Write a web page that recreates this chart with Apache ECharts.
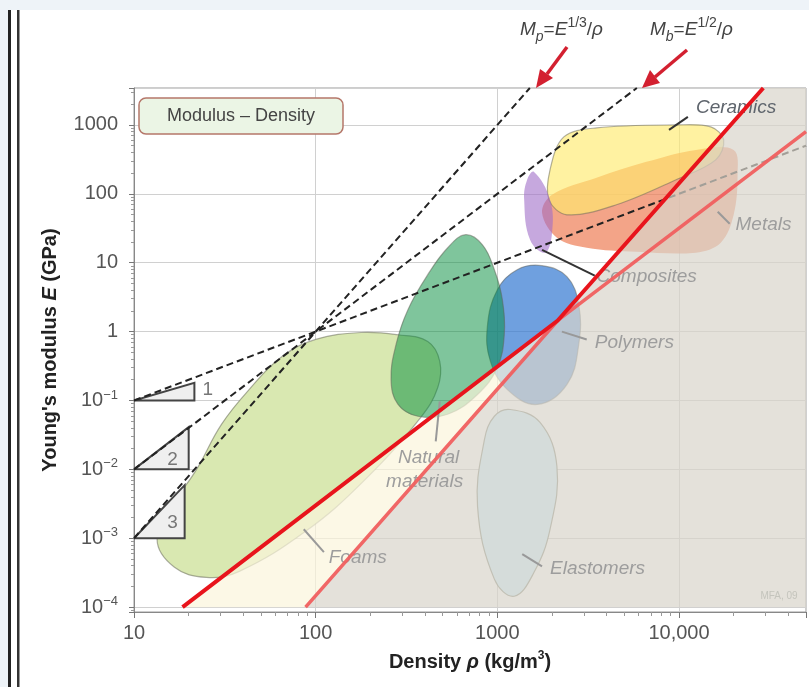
<!DOCTYPE html>
<html><head><meta charset="utf-8">
<script src="https://cdn.jsdelivr.net/npm/echarts@6/dist/echarts.min.js"></script>
<style>html,body{margin:0;padding:0;background:#eef3f8;}#c{width:809px;height:687px;}</style>
</head><body><div id="c"></div>
<script>
// ---------- axes ----------
const xMin = 10, xMax = 50000;
const yMin = 8.5e-5, yMax = 3436;
const xTickValues = [10, 100, 1000, 10000];
const xTickLabels = ['10', '100', '1000', '10,000'];
const yTickValues = [1e-4, 1e-3, 1e-2, 1e-1, 1, 10, 100, 1000];
const yTickLabels = ['10^−4', '10^−3', '10^−2', '10^−1', '1', '10', '100', '1000'];

// ---------- material property envelopes (density kg/m3, modulus GPa) ----------
const foams = [[13.4,9.7e-4],[16.7,3.3e-3],[22.1,0.01],[30.3,0.045],[43,0.144],[65,0.43],[100,0.77],[178,0.97],[284,0.9],[414,0.72],[482,0.37],[470,0.154],[379,0.057],[183,6.7e-3],[88,1.26e-3],[38,3.3e-4],[25,2.7e-4],[16.7,3.8e-4]];
const polymers = [[881,1.18],[1000,4.06],[1285,7.9],[1762,9.05],[2415,6.27],[2806,2.46],[2806,0.65],[2415,0.17],[1656,0.0875],[1135,0.144],[916,0.37]];
const naturalMaterials = [[668,25.5],[828,18.2],[963,7.9],[1066,2.9],[1092,0.9],[1000,0.3],[778,0.122],[533,0.063],[365,0.059],[284,0.0875],[260,0.2],[277,0.65],[322,2.08],[414,6.7],[533,16.5]];
const elastomers = [[1178,0.074],[1718,0.048],[2128,0.011],[1950,1.35e-3],[1592,3.2e-4],[1239,1.44e-4],[963,2.55e-4],[778,2.9e-3],[849,0.027],[963,0.059]];
const metals = [[1762,53],[2000,97],[3516,171],[6607,291],[12390,434],[19990,434],[21000,188],[19990,49.6],[16980,19.5],[12390,14],[5821,14.4],[3105,16.5],[2128,23]];
const ceramics = [[1923,82],[1950,223],[2323,670],[3516,905],[9638,1000],[14960,935],[17620,606],[15920,311],[9638,160],[4525,69.3],[2415,49.6]];
const composites = [[1592,208],[1950,82],[2000,27],[1829,14],[1514,21.5],[1405,82],[1459,160]];

// ---------- guide lines ----------
const guideSlope1 = [[10,0.1],[50000,500]];
const guideSlope2 = [[10,0.01],[5860,3436]];
const guideSlope3 = [[10,0.001],[1510,3436]];
const limitBright = [[18.5,1e-4],[2150,1.45],[29100,3436]];
const limitLight = [[88,1e-4],[2150,1.45],[50000,800]];
const excludedRegion = [[88,1e-4],[29100,3436],[50000,3436],[50000,1e-4]];
const betweenRegion = [[18.5,1e-4],[2150,1.45],[88,1e-4]];

// ---------- slope triangles ----------
const triangle1 = [[10,0.1],[21.5,0.1],[21.5,0.18]];
const triangle2 = [[10,0.01],[20,0.01],[20,0.041]];
const triangle3 = [[10,0.001],[19,0.001],[19,0.0059]];
const triangleLabels = [['1',23.8,0.144],['2',16.3,0.014],['3',16.3,0.0017]];

// ---------- annotations ----------
const familyLabels = [
  ['Ceramics',12390,1763],['Metals',20460,35.6],['Composites',3516,6.27],['Polymers',3436,0.69],
  ['Natural',284,0.0149],['materials',244,0.0067],['Foams',118,5.3e-4],['Elastomers',1950,3.6e-4],['MFA, 09',28050,1.44e-4]
];
const leaderLines = [
  [8810,847,11190,1306],[16330,54.8,19010,36.7],[1762,15.4,3436,6.48],[2266,1.0,3105,0.766],
  [482,0.0968,458,0.0255],[86,1.35e-3,111,6.3e-4],[1371,5.9e-4,1762,3.9e-4]
];

const FONT = '"Liberation Sans", Arial, Helvetica, sans-serif';
const darkLabels = {'Ceramics': '#5f656d'};
const darkLeaders = [0, 2];

function tickIndex(vals, v) {
  return vals.findIndex(t => Math.abs(Math.log10(t) - Math.log10(v)) < 1e-6);
}

function polySeries(pts, fill, stroke, z, smooth, lw) {
  return {
    type: 'custom', coordinateSystem: 'cartesian2d', clip: true, z: z, silent: true,
    data: [[pts[0][0], pts[0][1]]],
    renderItem: (params, api) => ({
      type: 'polygon',
      shape: { points: pts.map(p => api.coord(p)), smooth: smooth },
      style: { fill: fill, stroke: stroke || 'none', lineWidth: lw || 1.2 }
    })
  };
}
function lineSeries(pts, color, width, type, z) {
  return {
    type: 'line', data: pts, showSymbol: false, symbol: 'none', z: z, silent: true,
    lineStyle: { color: color, width: width, type: type },
    clip: true
  };
}

const blobStroke = 'rgba(100,100,90,0.5)';

const series = [
  polySeries(foams, '#d9e8b1', blobStroke, 2, 0.4),
  polySeries(polymers, 'rgba(50,120,210,0.7)', blobStroke, 2, 0.4),
  polySeries(naturalMaterials, 'rgba(0,139,57,0.5)', blobStroke, 2, 0.4),
  polySeries(elastomers, 'rgb(203,239,255)', 'rgba(120,120,100,0.8)', 2, 0.4),
  polySeries(metals, 'rgba(238,125,85,0.7)', 'none', 2, 0.35),
  polySeries(ceramics, 'rgba(255,235,110,0.65)', blobStroke, 2, 0.35),
  polySeries(composites, 'rgba(160,110,200,0.6)', 'none', 2, 0.4),
  lineSeries(guideSlope1, '#222', 2, [7,4], 3),
  lineSeries(guideSlope2, '#222', 2, [7,4], 3),
  lineSeries(guideSlope3, '#222', 2, [7,4], 3),
  polySeries(triangle1, '#efefef', '#444', 3, 0, 2),
  polySeries(triangle2, '#efefef', '#444', 3, 0, 2),
  polySeries(triangle3, '#efefef', '#444', 3, 0, 2),
  {
    type: 'custom', coordinateSystem: 'cartesian2d', z: 3, silent: true,
    data: triangleLabels.map(d => [d[1], d[2]]),
    renderItem: (params, api) => {
      const p = api.coord([api.value(0), api.value(1)]);
      const t = triangleLabels[params.dataIndex][0];
      return { type: 'text', x: p[0], y: p[1], style: { text: t, font: '19px ' + FONT, fill: '#777', align: t === '1' ? 'left' : 'center', verticalAlign: 'middle' } };
    }
  },
  polySeries(betweenRegion, 'rgba(251,245,219,0.7)', 'none', 4, 0),
  polySeries(excludedRegion, 'rgba(216,212,202,0.7)', 'none', 4, 0),
  {
    type: 'custom', coordinateSystem: 'cartesian2d', z: 5, silent: true,
    data: leaderLines,
    renderItem: (params, api) => {
      const a = api.coord([api.value(0), api.value(1)]);
      const b = api.coord([api.value(2), api.value(3)]);
      const dark = darkLeaders.indexOf(params.dataIndex) >= 0;
      return { type: 'line', shape: { x1: a[0], y1: a[1], x2: b[0], y2: b[1] }, style: { stroke: dark ? '#333' : '#999', lineWidth: 2 } };
    }
  },
  {
    type: 'custom', coordinateSystem: 'cartesian2d', z: 5, silent: true,
    data: familyLabels.map(d => [d[1], d[2]]),
    renderItem: (params, api) => {
      const p = api.coord([api.value(0), api.value(1)]);
      const t = familyLabels[params.dataIndex][0];
      const small = t === 'MFA, 09';
      return { type: 'text', x: p[0], y: p[1], style: { text: t, font: (small ? '10px ' : 'italic 19px ') + FONT, fill: small ? '#c4c4bc' : (darkLabels[t] || '#9d9d9d'), align: 'left', verticalAlign: 'middle' } };
    }
  },
  lineSeries(limitLight, 'rgba(240,95,95,0.95)', 3.5, 'solid', 6),
  lineSeries(limitBright, '#e8141c', 4, 'solid', 6)
];

const option = {
  backgroundColor: '#eef3f8',
  animation: false,
  grid: { left: 134, top: 88, width: 677, height: 524, show: true, borderColor: '#9a9a9a', borderWidth: 1, backgroundColor: 'transparent', containLabel: false },
  xAxis: {
    type: 'log', logBase: 10, min: xMin, max: xMax,
    name: 'Density {i|ρ} (kg/m{sup|3})', nameLocation: 'middle', nameGap: 38,
    nameTextStyle: { fontSize: 20, fontWeight: 'bold', color: '#222', fontFamily: FONT, lineHeight: 24,
      rich: { i: { fontStyle: 'italic', fontWeight: 'bold', fontSize: 20, fontFamily: FONT, lineHeight: 24 },
              sup: { fontSize: 12, fontWeight: 'bold', fontFamily: FONT, verticalAlign: 'top', lineHeight: 14 } } },
    axisLine: { show: true, lineStyle: { color: '#888' } },
    axisTick: { show: true, length: 6, lineStyle: { color: '#777' } },
    minorTick: { show: true, splitNumber: 9, length: 4, lineStyle: { color: '#999' } },
    splitLine: { show: true, lineStyle: { color: '#d0d0d0', width: 1 } },
    axisLabel: { margin: 11, fontSize: 20, color: '#555', fontFamily: FONT,
      formatter: v => { const i = tickIndex(xTickValues, v); return i < 0 ? '' : xTickLabels[i]; } }
  },
  yAxis: {
    type: 'log', logBase: 10, min: yMin, max: yMax,
    name: "Young's modulus {i|E} (GPa)", nameLocation: 'middle', nameGap: 74, nameRotate: 90,
    nameTextStyle: { fontSize: 20, fontWeight: 'bold', color: '#222', fontFamily: FONT,
      rich: { i: { fontStyle: 'italic', fontWeight: 'bold', fontSize: 20, fontFamily: FONT } } },
    axisLine: { show: true, lineStyle: { color: '#888' } },
    axisTick: { show: true, length: 5, lineStyle: { color: '#777' } },
    minorTick: { show: true, splitNumber: 9, length: 3, lineStyle: { color: '#999' } },
    splitLine: { show: true, lineStyle: { color: '#d0d0d0', width: 1 } },
    axisLabel: { margin: 16, fontSize: 20, color: '#555', fontFamily: FONT, lineHeight: 24,
      rich: { sup: { fontSize: 13, color: '#555', fontFamily: FONT, verticalAlign: 'top', lineHeight: 14 } },
      formatter: v => {
        const i = tickIndex(yTickValues, v);
        if (i < 0) return '';
        const parts = yTickLabels[i].split('^');
        return parts.length > 1 ? parts[0] + '{sup|' + parts[1] + '}' : parts[0];
      } }
  },
  graphic: [
    { type: 'rect', z: -10, shape: { x: 10, y: 10, width: 800, height: 678 }, style: { fill: '#ffffff' } },
    { type: 'rect', z: -9, shape: { x: 8, y: 10, width: 3, height: 678 }, style: { fill: '#222' } },
    { type: 'rect', z: -9, shape: { x: 17, y: 10, width: 2.5, height: 678 }, style: { fill: '#333' } },
    { type: 'rect', z: 100, shape: { x: 139, y: 98, width: 204, height: 36, r: 7 }, style: { fill: '#ebf5e5', stroke: '#b5776a', lineWidth: 1.5 } },
    { type: 'text', z: 101, x: 241, y: 116, style: { text: 'Modulus – Density', font: '18px ' + FONT, fill: '#444', align: 'center', verticalAlign: 'middle' } },
    { type: 'text', z: 101, x: 520, y: 30, style: {
        text: '{i|M}{sb|p}{n|=}{i|E}{sp|1/3}{n|/}{i|ρ}', verticalAlign: 'middle', align: 'left',
        rich: { i: { fontStyle: 'italic', fontSize: 19, fontFamily: FONT, fill: '#444', lineHeight: 28 },
                n: { fontSize: 19, fontFamily: FONT, fill: '#444', lineHeight: 28 },
                sb: { fontStyle: 'italic', fontSize: 14, fontFamily: FONT, fill: '#444', verticalAlign: 'bottom', lineHeight: 16 },
                sp: { fontSize: 14, fontFamily: FONT, fill: '#444', verticalAlign: 'top', lineHeight: 16 } } } },
    { type: 'text', z: 101, x: 650, y: 30, style: {
        text: '{i|M}{sb|b}{n|=}{i|E}{sp|1/2}{n|/}{i|ρ}', verticalAlign: 'middle', align: 'left',
        rich: { i: { fontStyle: 'italic', fontSize: 19, fontFamily: FONT, fill: '#444', lineHeight: 28 },
                n: { fontSize: 19, fontFamily: FONT, fill: '#444', lineHeight: 28 },
                sb: { fontStyle: 'italic', fontSize: 14, fontFamily: FONT, fill: '#444', verticalAlign: 'bottom', lineHeight: 16 },
                sp: { fontSize: 14, fontFamily: FONT, fill: '#444', verticalAlign: 'top', lineHeight: 16 } } } },
    { type: 'line', z: 101, shape: { x1: 567, y1: 47, x2: 547, y2: 74 }, style: { stroke: '#d32030', lineWidth: 3.5 } },
    { type: 'polygon', z: 101, shape: { points: [[536,88],[553,78],[540,69]] }, style: { fill: '#d32030' } },
    { type: 'line', z: 101, shape: { x1: 687, y1: 50, x2: 655, y2: 77 }, style: { stroke: '#d32030', lineWidth: 3.5 } },
    { type: 'polygon', z: 101, shape: { points: [[642,88],[660,83],[650,70]] }, style: { fill: '#d32030' } }
  ],
  series: series
};

const chart = echarts.init(document.getElementById('c'), null, { renderer: 'canvas', width: 809, height: 687 });
chart.setOption(option);
</script>
</body></html>
